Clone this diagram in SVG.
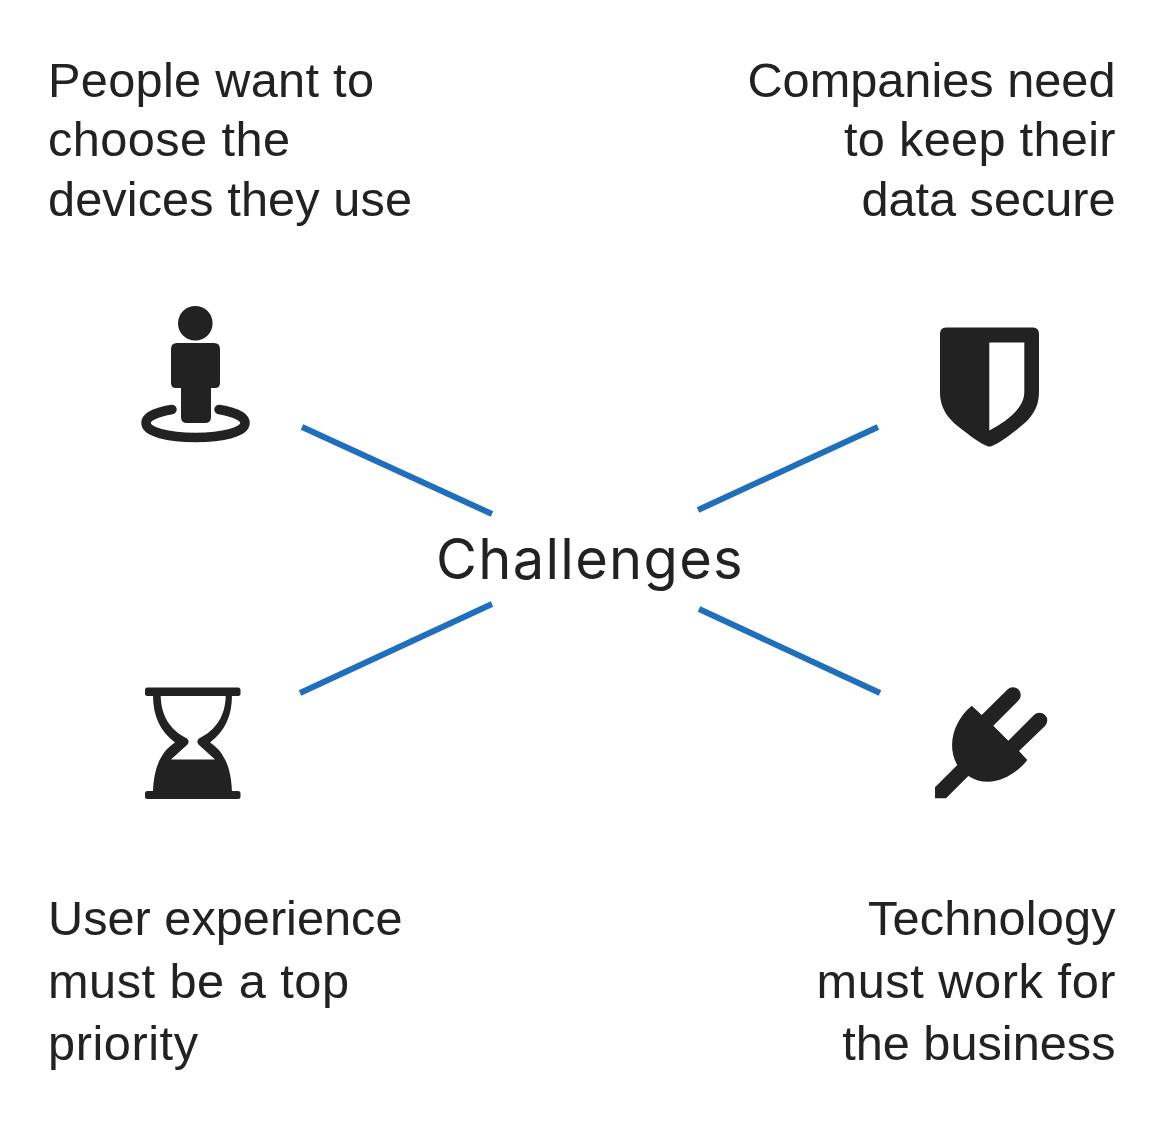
<svg xmlns="http://www.w3.org/2000/svg" width="1166" height="1121" viewBox="0 0 1166 1121">
<style>
text{font-family:"Liberation Sans",Arial,sans-serif;font-size:48.7px;fill:#222}
.r{text-anchor:end}
.c{stroke:#1f6fbd;stroke-width:6;stroke-linecap:butt;fill:none}
.i{fill:#222}
</style>
<rect width="1166" height="1121" fill="#fff"/>
<g id="connectors">
<line class="c" x1="302" y1="427" x2="492" y2="514"/>
<line class="c" x1="878" y1="427" x2="698" y2="510"/>
<line class="c" x1="300" y1="693" x2="492" y2="604"/>
<line class="c" x1="880" y1="693" x2="699" y2="609"/>
</g>
<g id="center"><text x="590" y="579" text-anchor="middle" style="font-family:Inter,sans-serif;font-size:56px;letter-spacing:1.3px">Challenges</text></g>
<g id="people">
<text x="48" y="96.500" textLength="326">People want to</text><text x="48" y="156" textLength="242">choose the</text><text x="48" y="215.500" textLength="364">devices they use</text>
<circle class="i" cx="195.300" cy="323.300" r="17.300"/>
<path class="i" d="M177 343H214Q220 343 220 349V383Q220 388 215 388H211V417Q211 423 205 423H187Q181 423 181 417V388H176Q171 388 171 383V349Q171 343 177 343Z"/>
<path d="M172 409.500C156 412 146 417 146 423C146 432 168 437.500 195.500 437.500C223 437.500 245 432 245 423C245 417 235 412 219 409.500" fill="none" stroke="#222" stroke-width="9.500" stroke-linecap="round"/>
</g>
<g id="companies">
<text class="r" x="1115.500" y="96.500">Companies need</text><text class="r" x="1115.500" y="156" textLength="271.500">to keep their</text><text class="r" x="1115.500" y="215.500" textLength="254">data secure</text>
<path class="i" fill-rule="evenodd" d="M946 327.500H1033Q1039 327.500 1039 334V392C1039 412 1027 422 1015 431C1005 439 997 444 992 446Q989.500 447 987 446C982 444 974 439 964 431C952 422 940 412 940 392V334Q940 327.500 946 327.500ZM989.300 342.500V430.500C1003 423 1024.300 410 1024.300 392V342.500Z"/>
</g>
<g id="user">
<text x="48" y="935">User experience</text><text x="48" y="998" textLength="301">must be a top</text><text x="48" y="1060" textLength="150">priority</text>
<rect class="i" x="145" y="687.500" width="95.500" height="8.500" rx="2.500"/>
<rect class="i" x="145" y="791" width="95.500" height="8" rx="2.500"/>
<path class="i" fill-rule="evenodd" d="M153 695C153 716 160 731 175 742.500C160 752 153 770 153 795H232C232 770 225 752 210 742.500C225 731 232 716 232 695ZM160.700 695.500H225.700C225.500 716 216 730 199 738.500Q196 741 198.500 744.500L215 759.500H171L187.500 744.500Q190 741 187 738.500C170 730 161 716 160.700 695.500Z"/>
</g>
<g id="technology">
<text class="r" x="1115.500" y="935" textLength="247.500">Technology</text><text class="r" x="1115.500" y="998" textLength="299">must work for</text><text class="r" x="1115.500" y="1060">the business</text>
<path class="i" d="M971.700 705.700L981.700 715L1007.500 689.500A7.500 7.500 0 0 1 1018.500 700.500L993.300 725.700L1008.300 740.700L1034 715A7.500 7.500 0 0 1 1045 726L1019 751L1027.300 760C1015 776 990 790 968.300 776L946 798.300H935V787.300L957.300 765C947 748 952 722 971.700 705.700Z"/>
</g>
</svg>
